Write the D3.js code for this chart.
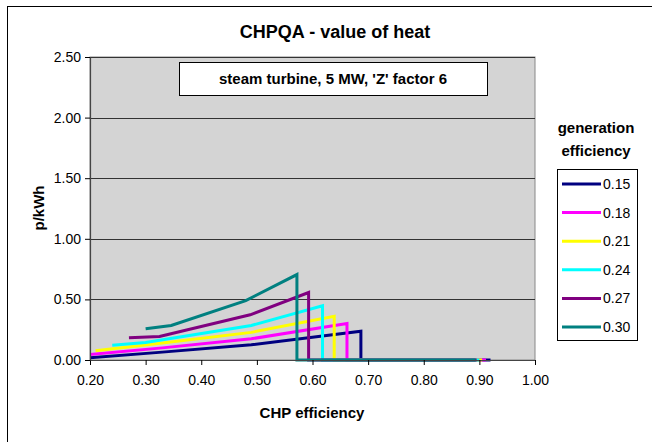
<!DOCTYPE html>
<html><head><meta charset="utf-8">
<script src="https://cdn.jsdelivr.net/npm/d3@7"></script>
<style>body{margin:0;background:#fff}svg{display:block;font-family:"Liberation Sans",Arial,sans-serif}</style>
</head><body><svg id="c" width="652" height="442"></svg>
<script>
const title = "CHPQA - value of heat";
const subtitle = "steam turbine, 5 MW, 'Z' factor 6";
const xLabel = "CHP efficiency";
const yLabel = "p/kWh";
const legendTitle = ["generation", "efficiency"];
const xTicks = [0.2, 0.3, 0.4, 0.5, 0.6, 0.7, 0.8, 0.9, 1.0];
const yTicks = [0, 0.5, 1.0, 1.5, 2.0, 2.5];
const seriesNames = ["0.15", "0.18", "0.21", "0.24", "0.27", "0.30"];
const seriesColors = ["#000080", "#ff00ff", "#ffff00", "#00ffff", "#800080", "#008080"];
const x015 = [0.15, 0.33, 0.49, 0.687, 0.687, 0.920];
const y015 = [0.000, 0.065, 0.125, 0.238, 0, 0];
const x018 = [0.18, 0.33, 0.49, 0.662, 0.662, 0.912];
const y018 = [0.036, 0.100, 0.175, 0.302, 0, 0];
const x021 = [0.21, 0.33, 0.49, 0.639, 0.639, 0.905];
const y021 = [0.076, 0.140, 0.228, 0.361, 0, 0];
const x024 = [0.24, 0.30, 0.49, 0.618, 0.618, 0.900];
const y024 = [0.122, 0.145, 0.285, 0.447, 0, 0];
const x027 = [0.27, 0.325, 0.488, 0.593, 0.593, 0.895];
const y027 = [0.183, 0.194, 0.373, 0.557, 0, 0];
const x030 = [0.30, 0.346, 0.48, 0.572, 0.572, 0.893];
const y030 = [0.257, 0.285, 0.490, 0.705, 0, 0];
const seriesX = [x015, x018, x021, x024, x027, x030];
const seriesY = [y015, y018, y021, y024, y027, y030];

const svg = d3.select("#c");
const L = 90, R = 535, T = 57, B = 360;
const x = d3.scaleLinear().domain([0.2, 1.0]).range([L, R]);
const y = d3.scaleLinear().domain([0, 2.5]).range([B, T]);

// outer border
svg.append("rect").attr("x", 7.5).attr("y", 6.5).attr("width", 660).attr("height", 460)
  .attr("fill", "none").attr("stroke", "#000").attr("stroke-width", 1);

// plot area
svg.append("rect").attr("x", L).attr("y", T).attr("width", R - L).attr("height", B - T)
  .attr("fill", "#d4d4d4").attr("stroke", "#888").attr("stroke-width", 1);

// gridlines
svg.append("g").selectAll("line").data(yTicks.filter(d => d > 0)).join("line")
  .attr("x1", L).attr("x2", R)
  .attr("y1", d => Math.round(y(d)) + 0.5).attr("y2", d => Math.round(y(d)) + 0.5)
  .attr("stroke", "#333").attr("stroke-width", 1);

// clip
svg.append("clipPath").attr("id", "clip").append("rect")
  .attr("x", L).attr("y", T).attr("width", R - L).attr("height", B - T + 2);

const line = d3.line().x(d => x(d[0])).y(d => y(d[1]));
const g = svg.append("g").attr("clip-path", "url(#clip)");
seriesNames.forEach((n, i) => {
  const pts = seriesX[i].map((v, j) => [v, seriesY[i][j]]);
  g.append("path").attr("d", line(pts)).attr("fill", "none")
    .attr("stroke", seriesColors[i]).attr("stroke-width", 3).attr("stroke-linejoin", "miter");
});

// axes
const xAxis = d3.axisBottom(x).tickValues(xTicks).tickFormat(d3.format(".2f")).tickSize(5).tickSizeOuter(0);
const yAxis = d3.axisLeft(y).tickValues(yTicks).tickFormat(d3.format(".2f")).tickSize(5).tickSizeOuter(0);
const gx = svg.append("g").attr("transform", `translate(0,${B})`).call(xAxis);
const gy = svg.append("g").attr("transform", `translate(${L},0)`).call(yAxis);
[gx, gy].forEach(a => {
  a.select(".domain").attr("stroke", "#444").attr("stroke-width", 1.2);
  a.selectAll(".tick line").attr("stroke", "#000");
  a.selectAll("text").attr("font-size", 14).attr("fill", "#000")
    .attr("font-family", "Liberation Sans, Arial, sans-serif");
});
gx.selectAll("text").attr("dy", "1.2em");
gy.selectAll("text").attr("x", -9);

// title
svg.append("text").attr("x", 335).attr("y", 38).attr("text-anchor", "middle")
  .attr("font-size", 18).attr("font-weight", "bold").text(title);

// subtitle box
svg.append("rect").attr("x", 179.5).attr("y", 62.5).attr("width", 308).attr("height", 33)
  .attr("fill", "#fff").attr("stroke", "#000").attr("stroke-width", 1);
svg.append("text").attr("x", 333).attr("y", 84).attr("text-anchor", "middle")
  .attr("font-size", 15).attr("font-weight", "bold").text(subtitle);

// axis labels
svg.append("text").attr("x", 312).attr("y", 418).attr("text-anchor", "middle")
  .attr("font-size", 15).attr("font-weight", "bold").text(xLabel);
svg.append("text").attr("transform", "translate(44,208) rotate(-90)").attr("text-anchor", "middle")
  .attr("font-size", 15).attr("font-weight", "bold").text(yLabel);

// legend
svg.append("text").attr("x", 596).attr("y", 133).attr("text-anchor", "middle")
  .attr("font-size", 15).attr("font-weight", "bold").text(legendTitle[0]);
svg.append("text").attr("x", 596).attr("y", 156).attr("text-anchor", "middle")
  .attr("font-size", 15).attr("font-weight", "bold").text(legendTitle[1]);
svg.append("rect").attr("x", 557.5).attr("y", 169.5).attr("width", 80).attr("height", 171)
  .attr("fill", "#fff").attr("stroke", "#000").attr("stroke-width", 1);
const ly = d3.scalePoint().domain(seriesNames).range([184, 327]);
seriesNames.forEach((n, i) => {
  svg.append("line").attr("x1", 562).attr("x2", 601).attr("y1", ly(n)).attr("y2", ly(n))
    .attr("stroke", seriesColors[i]).attr("stroke-width", 3);
  svg.append("text").attr("x", 603).attr("y", ly(n) + 5).attr("font-size", 14).text(n);
});
</script></body></html>
